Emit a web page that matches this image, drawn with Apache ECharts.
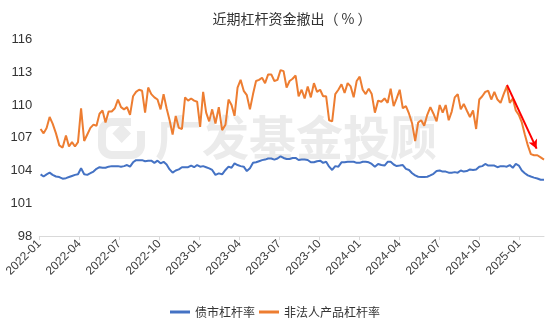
<!DOCTYPE html>
<html>
<head>
<meta charset="utf-8">
<script src="https://cdn.jsdelivr.net/npm/echarts@6/dist/echarts.min.js"></script>
<style>html,body{margin:0;padding:0;background:#fff}#c{width:550px;height:327px}</style>
</head>
<body>
<div id="c"></div>
<script>
// weekly observations starting from this date
const startDate = '2022-01-04';
const stepDays = 7;

const seriesNames = ['债市杠杆率', '非法人产品杠杆率'];

const bondLev = [
103.65,103.45,103.65,103.8,103.6,103.45,103.4,103.25,103.3,103.4,
103.5,103.6,103.65,104.2,103.65,103.6,103.75,103.9,104.15,104.3,
104.25,104.25,104.35,104.4,104.4,104.4,104.35,104.4,104.5,104.35,
104.75,104.95,104.95,104.95,104.85,104.9,104.9,104.7,104.9,104.66,
104.8,104.55,104.1,103.8,104.0,104.1,104.3,104.3,104.3,104.45,
104.3,104.5,104.35,104.4,104.3,104.2,104.05,103.6,103.74,103.65,
104.05,104.35,104.25,104.65,104.5,104.4,104.35,103.95,104.2,104.7,
104.75,104.85,104.95,105.0,105.1,105.1,105.0,105.1,105.3,105.15,
105.05,105.05,105.15,105.15,104.96,105.0,105.0,104.96,104.75,104.75,
104.85,104.9,104.7,104.8,104.35,104.05,104.4,104.35,104.75,104.75,
104.8,104.8,104.8,104.7,104.7,104.8,104.8,104.75,104.6,104.35,
104.6,104.5,104.45,104.8,104.8,104.55,104.41,104.45,104.5,104.15,
104.05,103.75,103.55,103.43,103.4,103.4,103.43,103.55,103.7,103.95,
104.0,103.9,103.9,103.8,103.8,103.85,103.8,104.0,103.9,103.95,
104.1,104.05,104.1,104.35,104.4,104.6,104.45,104.45,104.45,104.3,
104.4,104.4,104.35,104.5,104.25,104.6,104.45,104.0,103.75,103.55,
103.45,103.35,103.27,103.15,103.15
];

const prodLev = [
107.8,107.4,107.9,108.9,108.3,107.4,106.3,106.1,107.2,106.2,
106.6,106.2,106.6,109.7,106.7,107.3,107.9,108.2,108.1,109.2,
109.5,108.4,109.4,109.4,109.7,110.5,109.8,109.6,109.8,109.1,
110.8,111.2,111.4,111.3,109.3,111.6,111.0,110.7,110.5,109.6,
111.0,109.7,108.6,107.3,109.0,107.9,107.8,110.7,110.4,110.6,
110.4,110.3,108.0,111.2,109.3,108.5,109.6,108.3,109.8,107.7,
108.2,110.5,110.0,109.0,111.6,112.3,111.3,110.9,109.6,111.0,
112.2,112.3,112.5,112.0,112.8,112.8,112.2,112.3,113.2,113.1,
111.6,112.2,112.4,112.7,110.8,111.4,110.6,111.7,110.7,112.0,
111.2,111.4,110.8,110.8,108.6,108.5,111.0,111.4,111.9,111.1,
112.0,111.7,110.7,112.2,112.6,111.4,111.0,111.5,111.0,109.3,
110.4,110.3,110.6,110.2,111.5,109.9,110.6,111.4,109.7,109.9,
109.2,108.3,106.7,108.4,108.6,108.1,109.1,109.8,109.2,108.5,
110.0,109.3,110.0,108.6,109.4,110.7,111.0,109.6,110.1,109.5,
108.9,109.5,107.8,110.5,110.8,111.2,111.3,110.5,111.2,110.5,
110.2,111.0,111.7,110.2,110.6,109.5,109.1,108.4,107.3,106.3,
105.5,105.4,105.4,105.2,105.0
];

const yTicks = {min: 98, max: 116, interval: 3};
// annotation arrow, in [month offset from 2022-01, value]
const arrowStart = [35.08, 111.85];
const arrowEnd = [37.3, 106.0];

function daysIn(y, m) { return new Date(Date.UTC(y, m + 1, 0)).getUTCDate(); }
function monthOffset(d) {
  const y = d.getUTCFullYear(), m = d.getUTCMonth(), day = d.getUTCDate();
  return (y - 2022) * 12 + m + (day - 1) / daysIn(y, m);
}
const t0 = new Date(startDate + 'T00:00:00Z');
const dates = bondLev.map((_, i) => new Date(t0.getTime() + i * stepDays * 86400000));
const xs = dates.map(monthOffset);
const xMax = xs[xs.length - 1];

const chart = echarts.init(document.getElementById('c'), null, {renderer: 'canvas'});
const FONT = '"Liberation Sans", "Noto Sans CJK SC", sans-serif';
const CJK = '"Noto Sans CJK SC", sans-serif';
const WM = '#ebebeb';

chart.setOption({
  animation: false,
  backgroundColor: '#fff',
  textStyle: {fontFamily: FONT},
  title: {
    text: '近期杠杆资金撤出（ % ）', left: 287, textAlign: 'center', top: 7,
    textStyle: {fontSize: 14, fontWeight: 'normal', color: '#333', fontFamily: CJK}
  },
  graphic: [
    {type: 'group', z: -10, silent: true, children: [
      {type: 'rect', shape: {x: 102, y: 122, width: 39, height: 33, r: 10},
       style: {fill: 'none', stroke: WM, lineWidth: 8}},
      {type: 'rect', shape: {x: 131, y: 114, width: 16, height: 17},
       style: {fill: '#fff'}},
      {type: 'polygon', shape: {points: [[121.7, 124], [131, 133.5], [121.7, 143], [112.4, 133.5]]},
       style: {fill: WM}},
      {type: 'text', x: 155, y: 137,
       style: {text: '广发基金投顾', fontSize: 47, fontWeight: 'bold', fill: WM,
               verticalAlign: 'middle', align: 'left', fontFamily: CJK}}
    ]}
  ],
  legend: {
    bottom: 4, left: 'center', itemWidth: 20, itemHeight: 3, itemGap: 4,
    icon: 'rect',
    textStyle: {fontSize: 12, color: '#333', fontFamily: CJK},
    data: seriesNames
  },
  grid: {left: 39.3, right: 6, top: 39.5, bottom: 91, containLabel: false},
  xAxis: {
    type: 'value', min: 0, max: xMax, interval: 3,
    axisLine: {show: true, lineStyle: {color: '#d9d9d9', width: 1}},
    axisTick: {show: true, length: 4, lineStyle: {color: '#d9d9d9'}},
    splitLine: {show: false},
    axisLabel: {
      rotate: 45, fontSize: 12, color: '#404040', margin: 6,
      showMaxLabel: false, showMinLabel: true,
      formatter: v => {
        const m = Math.round(v);
        if (m % 3 !== 0 || v > xMax - 0.5) return '';
        const y = 2022 + Math.floor(m / 12), mo = m % 12 + 1;
        return y + '-' + (mo < 10 ? '0' : '') + mo;
      }
    }
  },
  yAxis: {
    type: 'value', min: yTicks.min, max: yTicks.max, interval: yTicks.interval,
    axisLine: {show: false}, axisTick: {show: false}, splitLine: {show: false},
    axisLabel: {fontSize: 13, color: '#333', margin: 7}
  },
  series: [
    {name: seriesNames[0], type: 'line', symbol: 'none', z: 3,
     itemStyle: {color: '#4472C4'}, lineStyle: {width: 2, color: '#4472C4'},
     data: xs.map((x, i) => [x, bondLev[i]])},
    {name: seriesNames[1], type: 'line', symbol: 'none', z: 2,
     itemStyle: {color: '#ED7D31'}, lineStyle: {width: 2, color: '#ED7D31'},
     data: xs.map((x, i) => [x, prodLev[i]]),
     markLine: {
       silent: true, symbol: ['none', 'arrow'], symbolSize: [7, 9],
       label: {show: false},
       lineStyle: {color: '#ff0000', width: 2, type: 'solid'},
       data: [[{coord: arrowStart}, {coord: arrowEnd}]]
     }}
  ]
});
</script>
</body>
</html>
